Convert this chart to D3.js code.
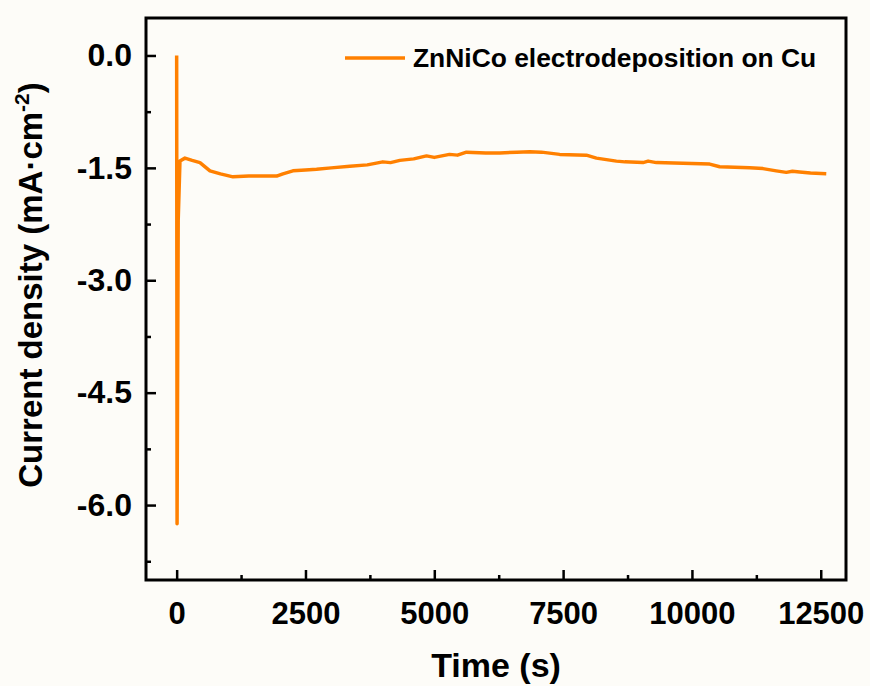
<!DOCTYPE html>
<html>
<head>
<meta charset="utf-8">
<script src="https://cdn.jsdelivr.net/npm/d3@7"></script>
<style>
  html, body { margin: 0; padding: 0; background: #fdfcf8; }
  svg { display: block; }
  text { font-family: "Liberation Sans", Arial, sans-serif; font-weight: bold; fill: #000; }
</style>
</head>
<body>
<svg id="chart" width="870" height="686"></svg>
<script>
// ---- data ----
const timeS = [0, 8, 30, 64, 161, 300, 452, 646, 850, 1092, 1400, 1700, 1940, 2062, 2256, 2500, 2715, 3000, 3361, 3700, 4001, 4150, 4331, 4600, 4849, 5000, 5295, 5450, 5624, 6000, 6270, 6600, 6852, 7079, 7434, 7952, 8146, 8534, 8700, 9050, 9150, 9310, 9826, 10344, 10538, 11120, 11378, 11637, 11831, 11950, 12089, 12300, 12607];
const currentDensity = [0.0, -6.25, -2.2, -1.41, -1.37, -1.40, -1.43, -1.54, -1.58, -1.62, -1.61, -1.61, -1.61, -1.58, -1.54, -1.53, -1.52, -1.50, -1.48, -1.46, -1.42, -1.43, -1.40, -1.38, -1.34, -1.36, -1.32, -1.33, -1.29, -1.30, -1.30, -1.29, -1.285, -1.29, -1.32, -1.33, -1.37, -1.41, -1.42, -1.43, -1.41, -1.43, -1.44, -1.45, -1.485, -1.50, -1.51, -1.54, -1.56, -1.545, -1.555, -1.57, -1.58];
const xTicks = [0, 2500, 5000, 7500, 10000, 12500];
const xMinorTicks = [1250, 3750, 6250, 8750, 11250];
const yTicks = [0.0, -1.5, -3.0, -4.5, -6.0];
const yTickLabels = ["0.0", "-1.5", "-3.0", "-4.5", "-6.0"];
const yMinorTicks = [-0.75, -2.25, -3.75, -5.25, -6.75];
const seriesName = "ZnNiCo electrodeposition on Cu";

// ---- layout ----
const svg = d3.select("#chart");
const mLeft = 146, mRight = 846, mTop = 18, mBottom = 580;
const x = d3.scaleLinear().domain([-595, 12990]).range([mLeft, mRight]);
const y = d3.scaleLinear().domain([-7.0, 0.5]).range([mBottom, mTop]);
const lineColor = "#ff8000";

// data line
const pts = timeS.map((t, i) => [t, currentDensity[i]]);
svg.append("path")
  .datum(pts)
  .attr("fill", "none")
  .attr("stroke", lineColor)
  .attr("stroke-width", 3.5)
  .attr("stroke-linejoin", "round")
  .attr("d", d3.line().x(d => x(d[0])).y(d => y(d[1])));

// axes (ticks inward)
const xAxis = d3.axisBottom(x).tickValues(xTicks).tickSize(-10).tickPadding(22).tickFormat(d3.format("d"));
const xAxisMinor = d3.axisBottom(x).tickValues(xMinorTicks).tickSize(-5).tickFormat("");
const yAxis = d3.axisLeft(y).tickValues(yTicks).tickSize(-10).tickPadding(14)
  .tickFormat(d => yTickLabels[yTicks.indexOf(d)]);
const yAxisMinor = d3.axisLeft(y).tickValues(yMinorTicks).tickSize(-5).tickFormat("");

function styleAxis(g, fs) {
  g.select(".domain").remove();
  g.selectAll(".tick line").attr("stroke", "#000").attr("stroke-width", 2.5);
  g.selectAll(".tick text").attr("font-size", fs).attr("font-family", "Liberation Sans, Arial, sans-serif").attr("font-weight", "bold").attr("fill", "#000");
}
svg.append("g").attr("transform", `translate(0,${mBottom})`).call(xAxis).call(styleAxis, 31);
svg.append("g").attr("transform", `translate(0,${mBottom})`).call(xAxisMinor).call(styleAxis, 31);
svg.append("g").attr("transform", `translate(${mLeft},0)`).call(yAxis).call(styleAxis, 32);
svg.append("g").attr("transform", `translate(${mLeft},0)`).call(yAxisMinor).call(styleAxis, 32);

// frame
svg.append("rect")
  .attr("x", mLeft).attr("y", mTop)
  .attr("width", mRight - mLeft).attr("height", mBottom - mTop)
  .attr("fill", "none").attr("stroke", "#000").attr("stroke-width", 3);

// axis titles
svg.append("text")
  .attr("x", (mLeft + mRight) / 2).attr("y", 677)
  .attr("text-anchor", "middle").attr("font-size", 34)
  .text("Time (s)");

const yt = svg.append("text")
  .attr("transform", `translate(42,285) rotate(-90)`)
  .attr("text-anchor", "middle").attr("font-size", 33);
yt.append("tspan").text("Current density (mA·cm");
yt.append("tspan").attr("font-size", 21).attr("dy", -13).text("-2");
yt.append("tspan").attr("dy", 13).text(")");

// legend
const lg = svg.append("g");
lg.append("line").attr("x1", 345).attr("x2", 405).attr("y1", 58).attr("y2", 58)
  .attr("stroke", lineColor).attr("stroke-width", 3.5);
lg.append("text").attr("x", 413).attr("y", 67).attr("font-size", 26.4).text(seriesName);
</script>
</body>
</html>
